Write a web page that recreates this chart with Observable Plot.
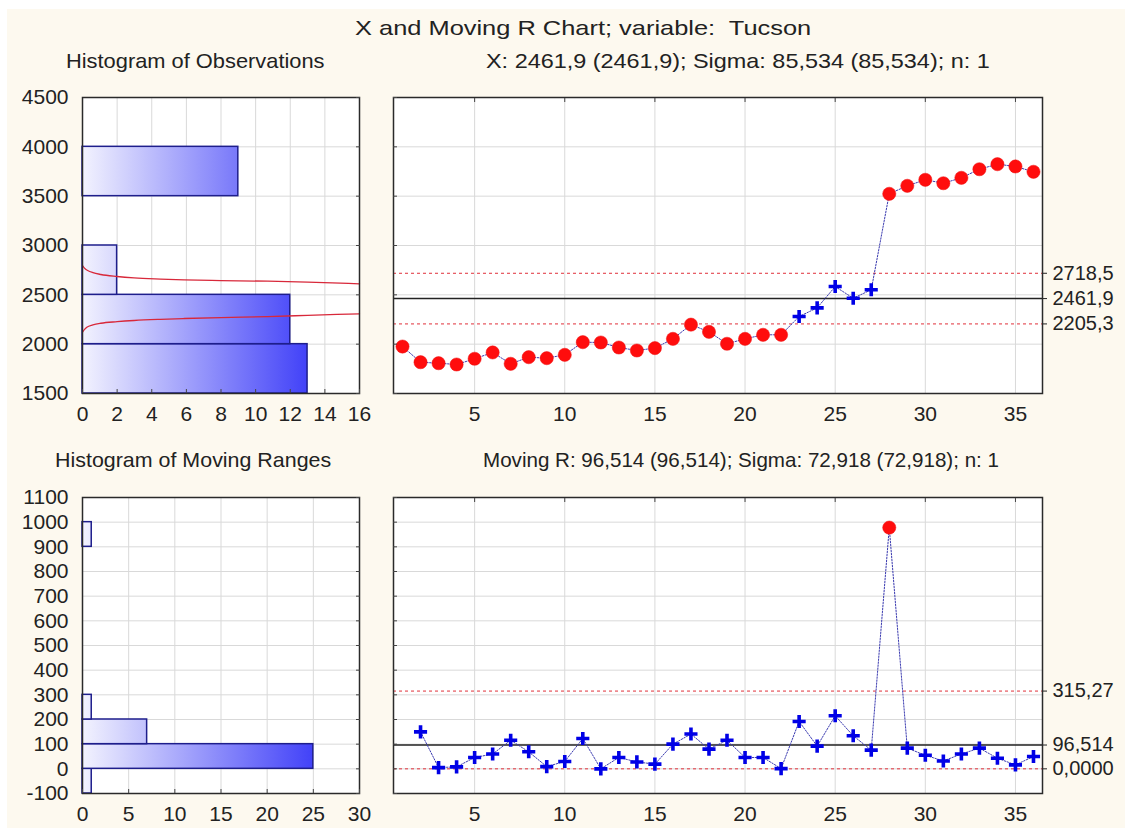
<!DOCTYPE html>
<html><head><meta charset="utf-8">
<script src="https://cdn.jsdelivr.net/npm/d3@7"></script>
<script src="https://cdn.jsdelivr.net/npm/@observablehq/plot@0.6"></script>
<style>
body{margin:0;background:#fff;}
#root{position:relative;width:1125px;height:828px;background:#fff;font-family:Arial,"Liberation Sans",sans-serif;color:#222;overflow:hidden}
#bg{position:absolute;left:7px;top:9px;right:0;bottom:0;background:#fdf9ef}
.t{position:absolute;white-space:nowrap;font-size:21px;line-height:21px;transform-origin:0 0}
.p{position:absolute}
</style></head><body>
<div id="root"><div id="bg"></div>
<div class="t" style="left:355px;top:17px;transform:scaleX(1.21)">X and Moving R Chart; variable:&nbsp; Tucson</div>
<div class="t" style="left:66px;top:50px;transform:scaleX(1.04)">Histogram of Observations</div>
<div class="t" style="left:486px;top:50px;transform:scaleX(1.115)">X: 2461,9 (2461,9); Sigma: 85,534 (85,534); n: 1</div>
<div class="t" style="left:55px;top:449px;transform:scaleX(1.02)">Histogram of Moving Ranges</div>
<div class="t" style="left:483px;top:449px;transform:scaleX(0.98)">Moving R: 96,514 (96,514); Sigma: 72,918 (72,918); n: 1</div>
<div class="p" id="pA" style="left:0;top:80px"></div>
<div class="p" id="pB" style="left:380px;top:80px"></div>
<div class="p" id="pC" style="left:0;top:480px"></div>
<div class="p" id="pD" style="left:380px;top:480px"></div>
</div>
<script>
// ---- Data ----
const xValues = [1976,1817,1807,1794,1852,1916,1801,1868,1858,1892,2020,2017,1966,1936,1960,2054,2198,2125,2004,2054,2095,2095,2280,2368,2584,2466,2551,3524,3605,3666,3631,3686,3773,3824,3801,3747];
const mrValues = [150,5,8,46,60,116,69,9,30,123,0,46,28,19,100,141,80,116,46,46,1,192,92,215,134,76,978,84,55,32,60,84,43,16,50];
const xLimits = [2718.5, 2461.9, 2205.3];
const xLimitLabels = ["2718,5","2461,9","2205,3"];
const mrLimits = [315.27, 96.514, 0];
const mrLimitLabels = ["315,27","96,514","0,0000"];

const obsBinLo = [1500,2000,2500,3000,3500];
const obsBinHi = [2000,2500,3000,3500,4000];
const obsBinCount = [13,12,2,0,9];
const mrBinLo = [-100,0,100,200,900];
const mrBinHi = [0,100,200,300,1000];
const mrBinCount = [1,25,7,1,1];

// normal curve outline (count, value)
const curveUpperCount = [0,0.15,0.3,0.6,1.06,2,2.98,4.5,5.87,8,10.7,13,16];
const curveUpperValue = [2797,2765,2747,2725,2706,2686,2672,2660,2652,2645,2638,2628,2612];
const curveLowerCount = [0,0.12,0.25,0.6,1.06,2,2.98,4.5,5.87,8,10.7,13,16];
const curveLowerValue = [2121,2150,2172,2195,2212,2228,2240,2252,2260,2270,2280,2292,2308];

const histATicksX = [0,2,4,6,8,10,12,14,16];
const histATicksY = [1500,2000,2500,3000,3500,4000,4500];
const histCTicksX = [0,5,10,15,20,25,30];
const histCTicksY = [-100,0,100,200,300,400,500,600,700,800,900,1000,1100];
const ctrlTicksX = [5,10,15,20,25,30,35];

// ---- Tables ----
const obs = xValues.map((v,i)=>({i:i+1, v}));
const mr = mrValues.map((v,i)=>({i:i+2, v}));
const obsBins = obsBinLo.map((lo,k)=>({lo, hi:obsBinHi[k], count:obsBinCount[k]}));
const mrBins = mrBinLo.map((lo,k)=>({lo, hi:mrBinHi[k], count:mrBinCount[k]}));
const upper = curveUpperCount.map((c,k)=>({c, v:curveUpperValue[k]}));
const lower = curveLowerCount.map((c,k)=>({c, v:curveLowerValue[k]}));

const FONT = "Arial, 'Liberation Sans', sans-serif";
const GRID = "#d9d9d9", FRAME = "#2a2a2a";
const style = {background:"transparent", fontSize:"21px", fontFamily:FONT, color:"#222", overflow:"visible"};
const blank = () => "";

function addGrad(plot, id, maxCount){
  const xs = plot.scale("x");
  const svg = d3.select(plot);
  const g = svg.insert("defs", ":first-child").append("linearGradient")
    .attr("id", id).attr("gradientUnits","userSpaceOnUse")
    .attr("x1", xs.apply(0)).attr("x2", xs.apply(maxCount)).attr("y1",0).attr("y2",0);
  g.append("stop").attr("offset",0).attr("stop-color","#f3f3fe");
  g.append("stop").attr("offset",1).attr("stop-color","#4242f8");
}

function histPlot(bins, xDomain, yDomain, tx, ty, gradId, h, mb, extra){
  return Plot.plot({
    width:380, height:h, marginLeft:82, marginRight:21, marginTop:17, marginBottom:mb,
    style,
    x:{domain:xDomain, label:null},
    y:{domain:yDomain, label:null},
    marks:[
      Plot.frame({fill:"white"}),
      Plot.gridX(tx, {stroke:GRID, strokeOpacity:1}),
      Plot.gridY(ty, {stroke:GRID, strokeOpacity:1}),
      Plot.rectX(bins, {filter:d=>d.count>0, x1:0, x2:"count", y1:"lo", y2:"hi", fill:`url(#${gradId})`, stroke:"#1e1e8c", strokeWidth:1.5}),
      ...extra,
      Plot.frame({stroke:FRAME, strokeWidth:1.5}),
      Plot.axisX(tx, {anchor:"bottom", tickSize:-4, tickFormat:blank, label:null, stroke:"#444"}),
      Plot.axisY(ty, {anchor:"right", tickSize:-4, tickFormat:blank, label:null, stroke:"#444"}),
      Plot.axisX(tx, {anchor:"bottom", tickSize:0, tickPadding:13, label:null, fontSize:21}),
      Plot.axisY(ty, {anchor:"left", tickSize:0, tickPadding:14, label:null, fontSize:21, tickFormat:d=>String(d)})
    ]
  });
}

function ctrlPlot(data, yDomain, ty, limits, labels, h, mb){
  const lim = limits.map((v,k)=>({v, label:labels[k], cl:k===1}));
  const labelMap = new Map(limits.map((v,k)=>[v, labels[k]]));
  const out = d => d.v > limits[0] || d.v < limits[2];
  return Plot.plot({
    width:745, height:h, marginLeft:13, marginRight:83, marginTop:17, marginBottom:mb,
    style,
    x:{domain:[0.5,36.5], label:null},
    y:{domain:yDomain, label:null},
    marks:[
      Plot.frame({fill:"white"}),
      Plot.gridX(ctrlTicksX, {stroke:GRID, strokeOpacity:1}),
      Plot.gridY(ty, {stroke:GRID, strokeOpacity:1}),
      Plot.ruleY(lim.filter(d=>!d.cl), {y:"v", stroke:"#e0303a", strokeWidth:1, strokeDasharray:"3,3"}),
      Plot.ruleY(lim.filter(d=>d.cl), {y:"v", stroke:"#222", strokeWidth:1.5}),
      Plot.line(data, {x:"i", y:"v", stroke:"#3a3ab0", strokeWidth:1, strokeDasharray:"1.5,1.5"}),
      Plot.dot(data.filter(d=>!out(d)), {x:"i", y:"v", symbol:"plus", r:4.3, stroke:"#0000e6", strokeWidth:3.6}),
      Plot.dot(data.filter(out), {x:"i", y:"v", r:6.6, fill:"#ff0d0d", stroke:"#ee1010", strokeWidth:0.5}),
      Plot.frame({stroke:FRAME, strokeWidth:1.5}),
      Plot.axisX(ctrlTicksX, {anchor:"top", tickSize:-4, tickFormat:blank, label:null, stroke:"#444"}),
      Plot.axisY(ty, {anchor:"left", tickSize:-4, tickFormat:blank, label:null, stroke:"#444"}),
      Plot.axisX(ctrlTicksX, {anchor:"bottom", tickSize:0, tickPadding:13, label:null, fontSize:21}),
      Plot.axisY(limits, {anchor:"right", tickSize:4, tickPadding:6, label:null, fontSize:20, tickFormat:d=>labelMap.get(d)})
    ]
  });
}

const pA = histPlot(obsBins, [0,16], [1500,4500], histATicksX, histATicksY, "gradA", 345, 32, [
  Plot.line(upper, {x:"c", y:"v", stroke:"#d8283a", strokeWidth:1.3, curve:"monotone-x"}),
  Plot.line(lower, {x:"c", y:"v", stroke:"#d8283a", strokeWidth:1.3, curve:"monotone-x"})
]);
addGrad(pA, "gradA", d3.max(obsBinCount));
document.getElementById("pA").appendChild(pA);

const pB = ctrlPlot(obs, [1500,4500], histATicksY, xLimits, xLimitLabels, 345, 32);
document.getElementById("pB").appendChild(pB);

const pC = histPlot(mrBins, [0,30], [-100,1100], histCTicksX, histCTicksY, "gradC", 348, 35, []);
addGrad(pC, "gradC", d3.max(mrBinCount));
document.getElementById("pC").appendChild(pC);

const pD = ctrlPlot(mr, [-100,1100], histCTicksY, mrLimits, mrLimitLabels, 348, 35);
document.getElementById("pD").appendChild(pD);
</script>
</body></html>
